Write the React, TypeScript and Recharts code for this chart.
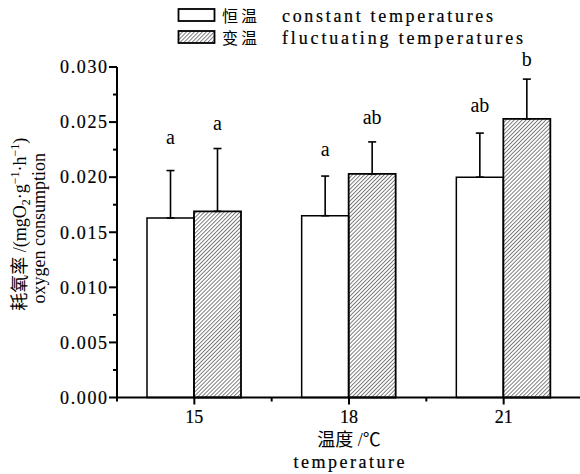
import React from 'react';
import { ComposedChart, Bar, XAxis, YAxis, ErrorBar, LabelList, Label } from 'recharts';

const temps = ['15', '18', '21'];
const constantMean = [0.0163, 0.0165, 0.02];
const constantErr = [0.0043, 0.0036, 0.004];
const fluctMean = [0.0169, 0.0203, 0.0253];
const fluctErr = [0.0057, 0.0029, 0.0036];
const constantLetters = ['a', 'a', 'ab'];
const fluctLetters = ['a', 'ab', 'b'];
const constantLetterAt = [0.023, 0.0219, 0.0259];
const fluctLetterAt = [0.0243, 0.0248, 0.0301];
const yTicks = [0, 0.0025, 0.005, 0.0075, 0.01, 0.0125, 0.015, 0.0175, 0.02, 0.0225, 0.025, 0.0275, 0.03];
const yMajorTicks = [0, 0.005, 0.01, 0.015, 0.02, 0.025, 0.03];

const data = temps.map((t, i) => ({
  temp: t,
  c: constantMean[i],
  cErr: [0, constantErr[i]],
  f: fluctMean[i],
  fErr: [0, fluctErr[i]],
}));

const SERIF = "'Liberation Serif', 'DejaVu Serif', serif";
const CJK = "'Noto Sans CJK SC', sans-serif";

const W = 590;
const H = 474;
const PLOT_LEFT = 117;
const PLOT_RIGHT = 581;
const BAND = (PLOT_RIGHT - PLOT_LEFT) / temps.length;

const YTick = (props: any) => {
  const { x, y, payload } = props;
  const v = payload.value;
  const major = yMajorTicks.some((m) => Math.abs(m - v) < 1e-9);
  return (
    <g>
      <line x1={x - (major ? 8 : 4)} x2={x} y1={y} y2={y} stroke="#000" strokeWidth={2} />
      {major && (
        <text x={x - 10} y={y} dy="0.35em" textAnchor="end" fontFamily={SERIF} fontSize={18} textLength={47} lengthAdjust="spacing" fill="#000" stroke="#000" strokeWidth={0.2}>
          {v.toFixed(3)}
        </text>
      )}
    </g>
  );
};

const XTick = (props: any) => {
  const { x, y, payload, index } = props;
  return (
    <g>
      <line x1={x} x2={x} y1={y} y2={y + 7} stroke="#000" strokeWidth={2} />
      <line x1={x - BAND / 2} x2={x - BAND / 2} y1={y} y2={y + 4} stroke="#000" strokeWidth={2} />
      {index === temps.length - 1 && (
        <line x1={x + BAND / 2} x2={x + BAND / 2} y1={y} y2={y + 4} stroke="#000" strokeWidth={2} />
      )}
      <text x={x} y={y + 19} dy="0.35em" textAnchor="middle" fontFamily={SERIF} fontSize={18} fill="#000" stroke="#000" strokeWidth={0.2}>
        {payload.value}
      </text>
    </g>
  );
};

const letterContent = (letters: string[], at: number[], means: number[]) => (props: any) => {
  const { x, y, width, height, index } = props;
  const base = y + height;
  const ppu = height / means[index];
  const ty = base - at[index] * ppu;
  return (
    <text x={x + width / 2} y={ty} textAnchor="middle" fontFamily={SERIF} fontSize={20} fill="#000">
      {letters[index]}
    </text>
  );
};

const XTitle = (props: any) => {
  const vb = props.viewBox || {};
  const cx = vb.x + vb.width / 2;
  return (
    <g>
      <text x={cx} y={vb.y + 42.5} dy="0.36em" textAnchor="middle" fill="#000">
        <tspan fontFamily={CJK} fontSize={18}>温度</tspan>
        <tspan fontFamily={SERIF} fontSize={18}> /</tspan>
        <tspan fontFamily={CJK} fontSize={18}>℃</tspan>
      </text>
      <text x={cx} y={vb.y + 64.5} dy="0.35em" textAnchor="middle" fontFamily={SERIF} fontSize={18} textLength={111} lengthAdjust="spacing" fill="#000" stroke="#000" strokeWidth={0.2}>
        temperature
      </text>
    </g>
  );
};

const YTitle = (props: any) => {
  const vb = props.viewBox || {};
  const cy = vb.y + vb.height / 2;
  const c1 = cy - 8;
  const c2 = cy - 4;
  return (
    <g>
      <text x={20} y={c1} dy="0.36em" textAnchor="middle" transform={`rotate(-90 20 ${c1})`} fill="#000">
        <tspan fontFamily={CJK} fontSize={18}>耗氧率</tspan>
        <tspan fontFamily={SERIF} fontSize={18}> /(mgO</tspan>
        <tspan fontFamily={SERIF} fontSize={12} dy={4}>2</tspan>
        <tspan fontFamily={SERIF} fontSize={18} dy={-4}>·g</tspan>
        <tspan fontFamily={SERIF} fontSize={12} dy={-7}>−1</tspan>
        <tspan fontFamily={SERIF} fontSize={18} dy={7}>·h</tspan>
        <tspan fontFamily={SERIF} fontSize={12} dy={-7}>−1</tspan>
        <tspan fontFamily={SERIF} fontSize={18} dy={7}>)</tspan>
      </text>
      <text x={39} y={c2} dy="0.36em" textAnchor="middle" transform={`rotate(-90 39 ${c2})`} fontFamily={SERIF} fontSize={18} fill="#000">
        oxygen consumption
      </text>
    </g>
  );
};

const LegendOverlay = () => (
  <svg width={580} height={56} style={{ position: 'absolute', left: 0, top: 0 }}>
    <defs>
      <pattern id="hatchLegend" patternUnits="userSpaceOnUse" width={2.8} height={2.8} patternTransform="rotate(45)">
        <line x1={0} y1={0} x2={0} y2={2.8} stroke="#000" strokeWidth={1} />
      </pattern>
    </defs>
    <rect x={178.5} y={9} width={36} height={12} fill="#fff" stroke="#000" strokeWidth={1.8} />
    <rect x={178.5} y={31} width={36} height={12} fill="url(#hatchLegend)" stroke="#000" strokeWidth={1.8} />
    <text x={222} y={16} dy="0.36em" fontFamily={CJK} fontSize={16} letterSpacing={3} fill="#000">恒温</text>
    <text x={282} y={16} dy="0.35em" fontFamily={SERIF} fontSize={18} textLength={211} lengthAdjust="spacing" fill="#000" stroke="#000" strokeWidth={0.2}>
      constant temperatures
    </text>
    <text x={222} y={38} dy="0.36em" fontFamily={CJK} fontSize={16} letterSpacing={3} fill="#000">变温</text>
    <text x={282} y={38} dy="0.35em" fontFamily={SERIF} fontSize={18} textLength={241} lengthAdjust="spacing" fill="#000" stroke="#000" strokeWidth={0.2}>
      fluctuating temperatures
    </text>
  </svg>
);

export default function App() {
  return (
    <div style={{ position: 'absolute', left: 0, top: 0, width: 580, height: 474, overflow: 'hidden', background: '#fff' }}>
      <ComposedChart
        width={W}
        height={H}
        data={data}
        barGap={0}
        margin={{ top: 67, right: W - PLOT_RIGHT, bottom: H - 397.5 - 30, left: PLOT_LEFT - 60 }}
      >
        <defs>
          <pattern id="hatch" patternUnits="userSpaceOnUse" width={2.8} height={2.8} patternTransform="rotate(45)">
            <line x1={0} y1={0} x2={0} y2={2.8} stroke="#000" strokeWidth={1} />
          </pattern>
        </defs>
        <XAxis
          dataKey="temp"
          height={30}
          axisLine={{ stroke: '#000', strokeWidth: 2 }}
          tickLine={false}
          tickSize={0}
          tickMargin={0}
          tick={<XTick />}
          interval={0}
        >
          <Label content={<XTitle />} />
        </XAxis>
        <YAxis
          width={60}
          domain={[0, 0.03]}
          ticks={yTicks}
          interval={0}
          axisLine={{ stroke: '#000', strokeWidth: 2 }}
          tickLine={false}
          tickSize={0}
          tickMargin={0}
          tick={<YTick />}
        >
          <Label content={<YTitle />} />
        </YAxis>
        <Bar dataKey="c" fill="#fff" stroke="#000" strokeWidth={1.5} barSize={47} isAnimationActive={false}>
          <ErrorBar dataKey="cErr" direction="y" width={4} stroke="#000" strokeWidth={1.6} />
          <LabelList dataKey="c" content={letterContent(constantLetters, constantLetterAt, constantMean)} />
        </Bar>
        <Bar dataKey="f" fill="url(#hatch)" stroke="#000" strokeWidth={1.8} barSize={47} isAnimationActive={false}>
          <ErrorBar dataKey="fErr" direction="y" width={4} stroke="#000" strokeWidth={1.6} />
          <LabelList dataKey="f" content={letterContent(fluctLetters, fluctLetterAt, fluctMean)} />
        </Bar>
      </ComposedChart>
      <LegendOverlay />
    </div>
  );
}
